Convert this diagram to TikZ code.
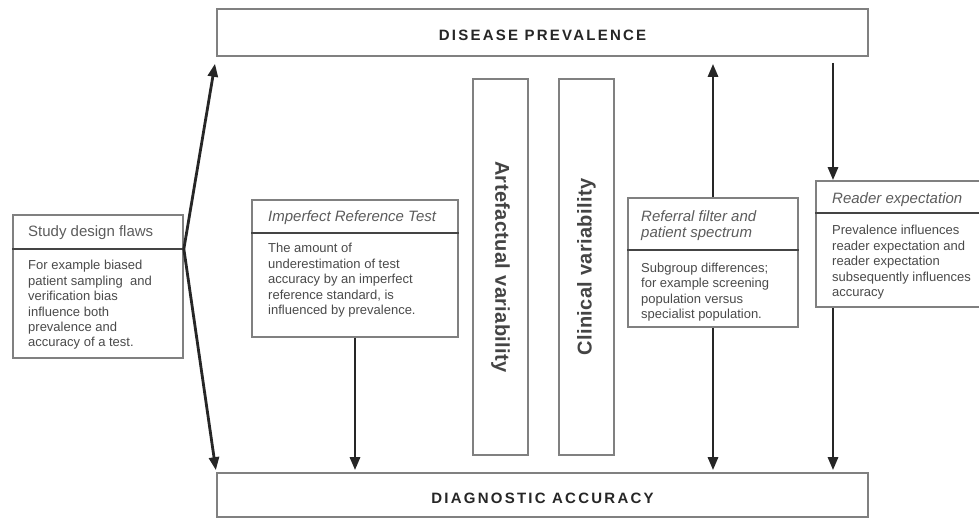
\documentclass[tikz,border=0pt]{standalone}
\usepackage{fontspec}
\setmainfont{Liberation Sans}
\newfontfamily\capsfont{Liberation Sans}[LetterSpace=15]
\newfontfamily\vertfont{Liberation Sans}[LetterSpace=2]
\usetikzlibrary{arrows.meta,calc}
\definecolor{bordergray}{HTML}{808080}
\definecolor{divgray}{HTML}{444444}
\definecolor{bodygray}{HTML}{4A4A4A}
\definecolor{titlegray}{HTML}{5C5C5C}
\definecolor{arrowdark}{HTML}{262626}
\tikzset{
  box/.style={draw=bordergray, line width=1.7pt, fill=white, inner sep=0pt},
  divider/.style={draw=divgray, line width=2.4pt},
  bodytext/.style={anchor=north west, inner sep=0pt, align=left, text=bodygray,
    font=\fontsize{13}{15.4}\selectfont},
  titletext/.style={anchor=north west, inner sep=0pt, align=left, text=titlegray,
    font=\fontsize{15}{16.5}\selectfont\itshape},
  bigtext/.style={text=arrowdark, font=\fontsize{15}{18}\selectfont\capsfont\bfseries},
  vlabel/.style={text=divgray, inner sep=0pt, font=\fontsize{20}{24}\selectfont\vertfont\bfseries},
  arr/.style={draw=arrowdark, line width=2.8pt, -{Triangle[length=13pt,width=10pt]}}
}
\begin{document}
\begin{tikzpicture}[x=1pt,y=-1pt]
\useasboundingbox (0,0) rectangle (979,520);
\clip (0,0) rectangle (979,520);
\fill[white] (0,0) rectangle (979,520);

% main boxes
\node[box, minimum width=651pt, minimum height=47pt] (dp) at (542.5,32.5) {};
\node[bigtext] (dpt) at (542.5,35) {DISEASE PREVALENCE};
\node[box, minimum width=651pt, minimum height=44pt] (da) at (542.5,495) {};
\node[bigtext] (dat) at (542.5,498) {DIAGNOSTIC ACCURACY};

% study design flaws
\node[box, minimum width=170pt, minimum height=143pt] (sdf) at (98,286.5) {};
\draw[divider] (sdf.west |- 0,249) -- (sdf.east |- 0,249);
\node[titletext, font=\fontsize{15}{16.5}\selectfont] (sdft) at (28,225) {\strut Study design flaws};
\node[bodytext] (sdfb) at (28,259) {\strut For example biased\\patient sampling\ \ and\\verification bias\\influence both\\prevalence and\\accuracy of a test.};

% imperfect reference test
\node[box, minimum width=206pt, minimum height=137pt] (irt) at (355,268.5) {};
\draw[divider] (irt.west |- 0,233) -- (irt.east |- 0,233);
\node[titletext] (irtt) at (268,209.5) {\strut Imperfect Reference Test};
\node[bodytext] (irtb) at (268,242) {\strut The amount of\\underestimation of test\\accuracy by an imperfect\\reference standard, is\\influenced by prevalence.};

% vertical boxes
\node[box, minimum width=55pt, minimum height=376pt] (art) at (500.5,267) {};
\node[vlabel, rotate=-90] (artl) at (art.center) {Artefactual variability};
\node[box, minimum width=55pt, minimum height=376pt] (cli) at (586.5,267) {};
\node[vlabel, rotate=90] (clil) at (cli.center) {Clinical variability};

% referral filter
\node[box, minimum width=170pt, minimum height=129pt] (rf) at (713,262.5) {};
\draw[divider] (rf.west |- 0,250) -- (rf.east |- 0,250);
\node[titletext] (rft) at (641,209.5) {\strut Referral filter and\\patient spectrum};
\node[bodytext] (rfb) at (641,261.5) {\strut Subgroup differences;\\for example screening\\population versus\\specialist population.};

% reader expectation
\node[box, minimum width=176pt, minimum height=126pt] (re) at (904,244) {};
\draw[divider] (re.west |- 0,213) -- (re.east |- 0,213);
\node[titletext] (ret) at (832,191.5) {\strut Reader expectation};
\node[bodytext] (reb) at (832,224) {\strut Prevalence influences\\reader expectation and\\reader expectation\\subsequently influences\\accuracy};

% connectors
\coordinate (sdfx) at (sdf.east |- 0,249);
\draw[arr, shorten >=7pt] (sdfx) -- (dp.south west);
\draw[arr, shorten >=2pt] (sdfx) -- (da.north west);
\draw[arr, shorten >=2pt] (irt.south) -- (irt.south |- da.north);
\draw[arr, shorten >=7pt] (rf.north) -- (rf.north |- dp.south);
\draw[arr, shorten >=2pt] (rf.south) -- (rf.south |- da.north);
\coordinate (rx) at (833,0);
\draw[arr, shorten <=6pt] (dp.south -| rx) -- (re.north -| rx);
\draw[arr, shorten >=2pt] (re.south -| rx) -- (da.north -| rx);
\end{tikzpicture}
\end{document}
